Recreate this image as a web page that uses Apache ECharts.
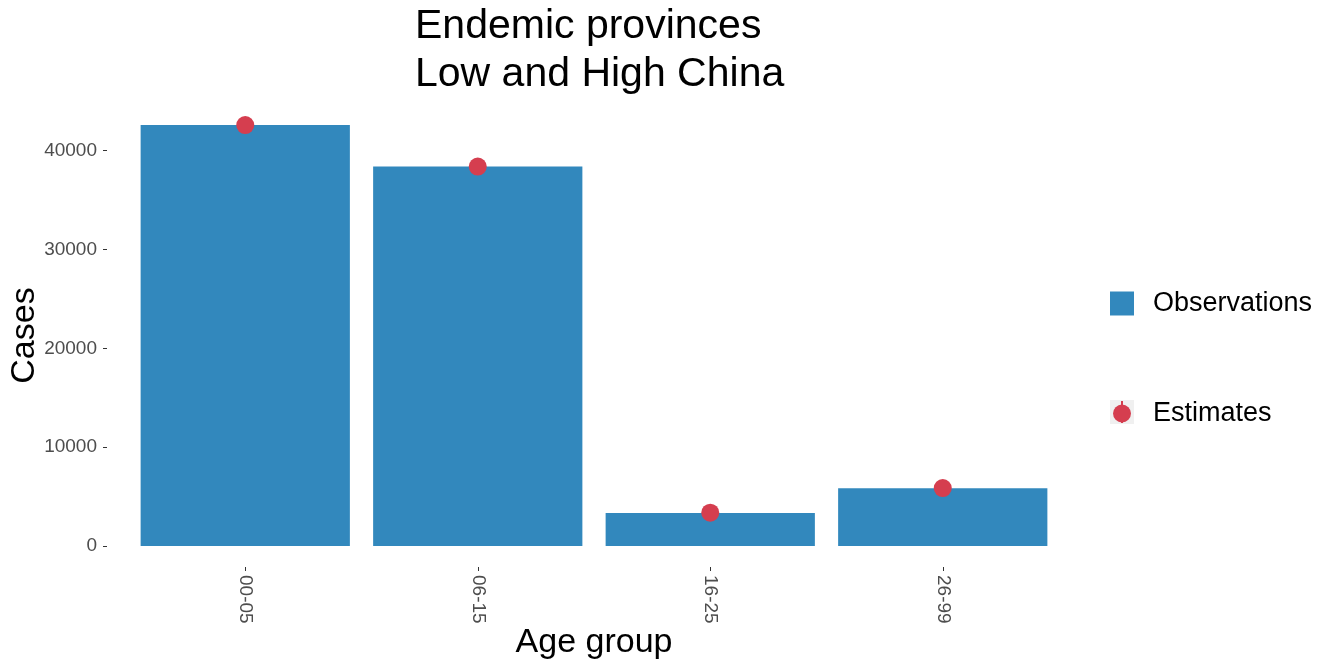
<!DOCTYPE html>
<html>
<head>
<meta charset="utf-8">
<script src="https://cdn.jsdelivr.net/npm/echarts@6/dist/echarts.min.js"></script>
<style>html,body{margin:0;padding:0;background:#fff;}#c{width:1328px;height:662px;}</style>
</head>
<body>
<div id="c"></div>
<script>
const categories = ['00-05', '06-15', '16-25', '26-99'];
const observations = [42600, 38400, 3340, 5840];
const estimates = [42600, 38400, 3370, 5860];
const yTicks = [0, 10000, 20000, 30000, 40000];
const titleLines = ['Endemic provinces', 'Low and High China'];

const blue = '#3288bd';
const red = '#d53e4f';
const font = '"Liberation Sans", Arial, sans-serif';

const chart = echarts.init(document.getElementById('c'), null, {renderer: 'canvas'});
const yMax = Math.max(...observations, ...estimates) * 1.05;
const yMin = -Math.max(...observations, ...estimates) * 0.05;

chart.setOption({
  backgroundColor: '#ffffff',
  animation: false,
  title: {
    text: titleLines.join('\n'),
    left: 410,
    top: -2,
    textStyle: {fontFamily: font, fontSize: 41, fontWeight: 'normal', color: '#000', lineHeight: 48}
  },
  legend: [
    {
      data: [{name: 'Observations', icon: 'rect'}],
      orient: 'vertical',
      left: 1110,
      top: 290,
      padding: 0,
      itemWidth: 24,
      itemHeight: 24,
      textStyle: {fontFamily: font, fontSize: 27, color: '#000', padding: [0, 0, 0, 14]}
    },
    {
      data: [{name: 'Estimates', icon: 'circle'}],
      orient: 'vertical',
      left: 1113,
      top: 400,
      padding: 0,
      itemWidth: 18,
      itemHeight: 18,
      textStyle: {fontFamily: font, fontSize: 27, color: '#000', padding: [0, 0, 0, 17]}
    }
  ],
  graphic: [
    {type: 'rect', left: 1110, top: 400, z: -1, shape: {width: 24, height: 24}, style: {fill: '#f0f0f0'}},
    {type: 'line', z: -1, shape: {x1: 1122, y1: 401, x2: 1122, y2: 423}, style: {stroke: red, lineWidth: 2}}
  ],
  grid: {left: 129, right: 269, top: 104, bottom: 95, containLabel: false, outerBoundsMode: 'none'},
  xAxis: {
    type: 'category',
    data: categories,
    name: 'Age group',
    nameLocation: 'middle',
    nameGap: 76,
    nameMoveOverlap: false,
    nameTextStyle: {fontFamily: font, fontSize: 34, color: '#000', verticalAlign: 'middle'},
    axisLine: {show: false, onZero: false},
    axisTick: {show: true, alignWithLabel: true, length: 4, lineStyle: {color: '#333', width: 1}},
    axisLabel: {rotate: -90, margin: 8, fontFamily: font, fontSize: 19, color: '#4d4d4d'},
    splitLine: {show: false}
  },
  yAxis: {
    type: 'value',
    min: yMin,
    max: yMax,
    offset: 22,
    name: 'Cases',
    nameLocation: 'middle',
    nameGap: 82,
    nameRotate: 90,
    nameMoveOverlap: false,
    nameTextStyle: {fontFamily: font, fontSize: 34, color: '#000', verticalAlign: 'middle'},
    axisLine: {show: false},
    axisTick: {show: true, length: 4, customValues: yTicks, lineStyle: {color: '#333', width: 1}},
    axisLabel: {margin: 10, fontFamily: font, fontSize: 19, color: '#4d4d4d', customValues: yTicks,
      formatter: v => String(v)},
    splitLine: {show: false}
  },
  series: [
    {
      name: 'Observations',
      type: 'bar',
      data: observations,
      barWidth: '90%',
      itemStyle: {color: blue},
      z: 2
    },
    {
      name: 'Estimates',
      type: 'scatter',
      data: estimates,
      symbol: 'circle',
      symbolSize: 18,
      itemStyle: {color: red, opacity: 1},
      z: 3
    }
  ]
});
</script>
</body>
</html>
